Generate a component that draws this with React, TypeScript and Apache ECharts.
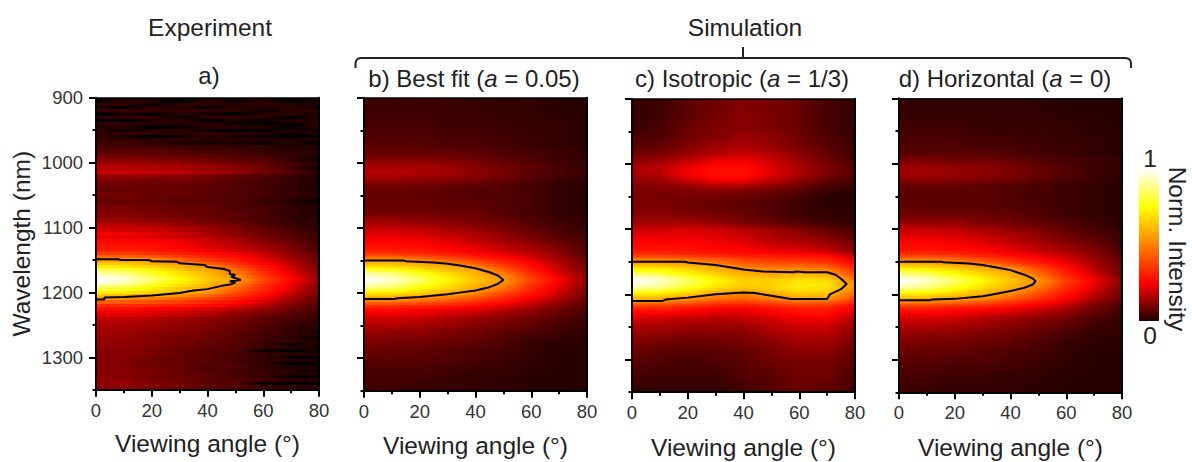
import React, { useEffect, useRef } from "react";
import * as echarts from "echarts";

const angles = [0, 10, 20, 30, 40, 50, 60, 70, 80];
const xTickLabels = [0, 20, 40, 60, 80];
const yMajorTicks = [900, 1000, 1100, 1200, 1300];
const yMinorTicks = [950, 1050, 1150, 1250, 1350];

const wavelengthsSim = [900,920,940,960,975,985,995,1005,1015,1025,1035,1045,1060,1075,1090,1100,1110,1120,1130,1135,1140,1145,1150,1155,1160,1165,1170,1175,1180,1185,1190,1195,1200,1205,1210,1215,1220,1225,1230,1240,1250,1260,1270,1285,1300,1325,1350];
const wavelengthsExp = [900,905,910,915,920,925,930,935,940,945,950,955,960,965,970,975,980,985,990,995,1000,1005,1010,1015,1020,1025,1030,1040,1050,1060,1070,1080,1090,1095,1100,1105,1110,1115,1120,1125,1130,1135,1140,1145,1150,1155,1160,1165,1170,1175,1180,1185,1190,1195,1200,1205,1210,1215,1220,1225,1230,1235,1240,1245,1250,1255,1260,1265,1270,1275,1280,1285,1290,1295,1300,1305,1310,1315,1320,1325,1330,1335,1340,1345,1350];

// Normalised intensity in percent: one row per wavelength, one column per angle
const panelA = [
[5,4,5,4,5,5,4,4,3],[1,4,3,0,4,1,4,0,4],[5,5,1,5,4,4,5,4,3],[3,0,4,4,0,4,3,4,1],[6,6,5,5,5,5,1,4,5],[0,3,1,4,3,0,4,4,3],[5,5,5,1,4,5,4,0,4],[1,0,3,5,0,3,1,4,3],[5,5,4,4,4,1,0,1,4],[3,4,0,1,4,4,3,0,4],[5,1,4,5,1,0,0,4,1],[5,5,5,4,5,4,4,1,4],[4,3,0,1,4,3,1,0,0],[6,5,4,5,4,4,4,3,4],[6,6,5,3,2,3,1,4,0],
[7,7,7,6,6,5,5,3,4],[8,8,8,7,6,6,5,4,3],[9,9,9,8,7,7,5,5,4],[11,11,10,10,9,8,7,5,3],[13,13,12,11,11,9,8,5,1],[15,15,14,14,12,11,9,6,4],[17,17,16,16,15,13,10,7,4],[18,18,17,17,15,13,11,7,1],[20,20,19,18,16,14,11,8,4],[15,15,15,14,12,10,8,6,4],[13,13,12,12,11,9,7,5,3],[12,12,11,11,10,8,7,5,3],
[10,10,10,10,9,8,7,5,3],[11,11,10,10,9,8,7,5,4],[10,10,10,9,9,8,6,4,1],[12,12,11,10,10,8,7,5,4],[13,13,12,11,10,9,7,5,3],[15,15,14,13,11,9,7,5,4],[18,18,17,15,13,11,8,6,4],[20,20,19,17,15,12,9,7,4],[21,21,20,18,15,13,10,7,5],[24,24,22,20,17,14,11,8,5],[23,23,22,20,18,15,12,9,5],[26,26,25,23,20,17,13,10,6],[27,27,26,24,21,18,14,11,7],[29,29,28,25,22,19,16,12,7],
[31,31,30,27,24,21,17,13,8],[36,36,34,31,27,24,19,14,9],[45,45,42,37,31,27,21,15,10],[56,56,52,45,36,30,23,17,10],[64,63,59,55,44,35,26,18,11],[73,71,66,60,54,39,29,20,12],[82,79,72,64,57,45,31,21,12],[91,87,78,69,61,50,34,23,13],[98,94,84,73,63,54,37,25,14],[100,96,86,75,64,57,39,26,15],[98,93,83,73,63,54,37,25,14],[91,87,78,69,60,50,34,23,13],[82,79,72,64,57,45,32,22,12],[73,71,66,60,54,40,30,20,12],[63,62,58,55,46,36,27,18,11],[55,53,50,45,38,31,24,16,10],[43,42,40,37,32,27,21,14,9],[34,34,32,30,27,23,18,12,8],[28,28,26,24,22,19,15,11,7],[24,24,23,21,19,16,13,10,6],[22,22,21,19,17,14,11,8,6],
[19,19,18,16,14,12,9,7,5],[18,18,17,15,13,11,9,6,5],[17,17,16,14,13,11,8,6,4],[16,16,15,14,12,10,8,5,4],[16,16,14,13,12,10,7,5,1],[16,15,14,13,11,9,7,5,4],[15,15,13,12,11,9,7,4,1],[15,14,13,12,10,9,6,5,3],[14,14,13,11,10,8,6,1,3],[14,14,12,11,9,8,6,4,3],[13,13,12,10,9,8,1,0,3],[13,13,12,10,9,7,5,4,3],[13,13,11,10,8,7,5,1,0],[13,13,11,10,9,7,5,4,3],[13,12,11,10,8,7,5,0,0],[13,13,11,10,8,8,5,3,3],[13,13,12,10,8,7,5,4,1],[13,13,12,10,9,7,6,4,4],[14,13,11,10,9,7,5,1,0],[14,14,12,11,9,8,6,4,4],[14,14,12,11,9,8,1,0,1],[14,14,13,11,9,8,6,5,5],[14,14,12,11,9,8,6,5,4],
];

const panelB = [
[6,6,6,6,5,5,5,4,4],[6,6,6,6,6,5,5,4,4],[7,7,7,6,6,6,5,5,4],[8,8,8,7,7,6,6,5,4],[9,9,9,8,8,7,6,5,4],[10,10,10,10,9,8,7,6,5],[13,13,13,12,11,9,8,6,5],[16,16,16,15,13,11,9,7,5],[18,18,17,16,14,12,9,7,6],[15,15,14,13,12,10,8,6,5],[11,11,11,10,9,8,7,5,4],[10,10,9,9,8,8,7,5,4],[10,10,10,9,9,8,7,5,4],[11,11,11,10,10,8,7,5,4],[15,15,14,13,12,10,8,6,5],
[19,19,18,16,14,12,9,7,5],[22,22,21,19,17,14,11,8,6],[25,25,24,22,19,16,13,10,7],[28,28,27,25,22,19,16,12,8],[31,31,30,27,24,20,17,13,8],[36,36,34,31,27,23,19,14,9],[45,45,42,37,31,26,21,15,9],[55,55,51,44,36,29,23,16,10],[63,62,58,55,44,35,26,18,11],[72,70,65,59,54,39,28,19,11],[81,78,71,63,57,44,30,20,12],[90,86,77,68,60,49,33,22,13],[98,93,83,72,62,53,36,24,14],[100,95,85,74,63,55,38,25,15],[97,92,82,72,62,53,36,24,14],[90,86,77,68,59,49,33,23,13],[81,78,71,63,56,44,31,21,12],[72,70,65,59,52,39,29,20,12],[62,61,58,54,45,35,26,18,11],[53,52,49,44,37,30,23,16,10],[43,42,40,36,31,26,20,14,9],[33,33,31,29,26,22,17,12,8],[28,28,26,24,22,19,15,11,8],[24,24,23,21,19,16,13,10,7],
[20,20,19,17,15,13,11,8,6],[17,17,16,15,13,11,9,7,5],[15,14,14,12,11,9,8,6,5],[13,12,12,11,10,8,6,5,4],[11,10,10,9,8,7,5,4,4],[9,9,9,8,7,6,5,4,4],[7,7,7,6,5,5,4,4,4],[6,6,5,5,5,4,4,4,4],
];

const panelC = [
[5,6,9,11,13,12,10,7,5],[5,6,9,11,13,12,10,7,5],[5,7,10,12,13,12,10,7,5],[7,8,11,13,15,14,11,8,5],[9,10,13,16,17,15,12,9,6],[11,12,15,18,20,18,14,10,6],[14,15,19,23,24,20,15,11,7],[16,18,23,27,27,22,17,12,8],[16,18,24,28,28,22,17,12,8],[14,15,20,24,24,19,14,10,7],[12,13,14,16,16,13,10,7,5],[12,12,12,12,11,10,8,5,4],[12,12,11,10,9,8,6,4,4],[13,13,12,11,10,8,6,5,4],[16,16,16,14,12,10,8,6,5],
[20,20,21,20,18,15,13,10,7],[22,23,23,22,20,17,15,12,9],[25,25,25,24,22,19,17,15,11],[28,28,28,26,25,22,21,18,13],[31,31,30,28,26,24,23,21,14],[36,36,34,32,30,29,28,26,18],[45,45,43,39,35,33,32,30,21],[55,55,53,47,41,38,37,35,24],[63,62,59,55,46,44,44,41,28],[72,70,65,59,53,50,50,47,32],[81,78,71,63,57,55,55,54,36],[90,86,77,68,61,59,61,60,40],[98,93,83,72,64,63,66,65,44],[100,95,85,74,66,65,70,69,49],[97,92,82,72,65,66,71,70,53],[90,86,77,68,62,66,71,69,52],[81,78,70,62,57,62,68,66,48],[72,70,64,55,51,57,64,62,44],[62,61,55,48,45,50,58,57,39],[54,51,47,41,39,43,48,47,33],[43,42,39,34,32,35,39,38,28],[33,33,30,27,26,29,32,32,24],[28,28,26,23,23,26,29,29,22],[25,24,23,21,21,24,27,27,20],
[20,19,18,17,18,20,23,23,17],[17,16,15,15,15,18,20,20,15],[15,14,13,13,13,16,18,18,13],[13,12,11,11,12,14,16,16,12],[11,9,9,9,10,12,14,14,10],[9,8,7,8,9,11,12,12,9],[7,6,6,6,8,9,11,11,7],[5,5,5,5,6,8,10,9,6],
];

const panelD = [
[5,5,5,5,5,4,4,4,4],[5,5,5,5,5,5,4,4,4],[6,6,6,5,5,5,5,4,4],[7,7,7,6,6,6,5,5,4],[8,8,8,7,7,6,6,5,4],[9,9,9,9,8,7,6,5,4],[12,12,11,11,10,8,7,6,5],[15,15,14,14,12,10,8,6,5],[16,16,15,14,12,10,8,6,5],[13,13,13,12,11,9,7,6,4],[10,10,10,9,8,7,6,5,4],[9,9,9,9,8,7,6,5,4],[9,9,9,9,8,7,6,5,4],[11,10,10,10,9,8,6,5,4],[14,14,14,12,11,9,8,6,4],
[19,19,18,16,14,12,9,7,5],[22,22,21,19,17,14,11,8,6],[25,25,24,22,19,16,13,10,6],[28,28,27,25,22,19,16,12,7],[31,31,30,27,24,20,17,13,8],[36,36,34,31,27,23,19,14,9],[45,45,42,37,31,26,21,15,9],[55,55,51,44,36,29,23,16,10],[63,62,58,55,44,34,25,17,10],[72,70,65,59,53,39,28,18,11],[81,78,71,63,57,43,30,19,11],[90,86,77,68,60,48,32,21,12],[98,93,83,72,62,52,35,23,13],[100,95,85,74,63,54,37,24,14],[97,92,82,72,62,52,35,23,13],[90,86,77,68,59,48,32,22,12],[81,78,71,63,56,43,30,20,11],[72,70,65,59,52,39,28,19,11],[62,61,58,55,45,35,26,17,10],[54,53,49,44,37,30,23,15,9],[43,42,40,36,31,26,20,13,8],[33,33,31,29,26,22,17,11,7],[28,28,26,24,22,19,15,10,7],[24,24,23,21,19,16,13,9,6],
[20,20,19,17,15,13,11,7,5],[17,17,16,15,13,11,9,6,5],[15,14,14,12,11,9,7,5,5],[13,12,12,11,10,8,6,5,4],[11,10,10,9,8,7,5,4,4],[9,9,8,8,7,6,5,4,4],[7,7,6,6,5,5,4,4,4],[6,5,5,5,5,4,4,4,4],
];

const contourA = [[0,1149],[8,1149],[9,1150],[19,1150],[20,1152],[29,1153],[30,1155],[39,1158],[40,1161],[46,1164],[48,1167],[48,1172],[50,1173],[48.5,1176],[52,1181],[48,1183],[50,1185],[48,1188],[45,1190],[40,1195],[35,1197],[30,1201],[25,1203],[20,1205],[10,1207],[3,1208],[3,1211],[0,1211]];
const contourB = [[0,1150],[14,1150],[15,1151],[25,1153],[30,1155],[35,1158],[40,1162],[45,1168],[48,1173],[50,1180],[48,1186],[45,1191],[40,1196],[35,1199],[30,1202],[20,1206],[12,1208],[11,1209],[0,1209]];
const contourC = [[0,1150],[19,1150],[20,1151],[30,1155],[40,1162],[47,1165],[58,1166],[59,1165],[62,1166],[70,1166],[73,1170],[75,1176],[77,1184],[75,1192],[71,1200],[70,1207],[57,1207],[50,1202],[44,1198],[40,1197],[30,1200],[20,1205],[12,1208],[11,1210],[0,1210]];
const contourD = [[0,1150],[15,1150],[16,1151],[25,1153],[30,1155],[35,1159],[40,1163],[45,1170],[48,1176],[49,1180],[48,1185],[45,1190],[40,1195],[35,1199],[30,1203],[20,1207],[12,1208],[11,1209],[0,1209]];

const panelTitles = [
  "{n|a)}",
  "{n|b) Best fit (}{i|a}{n| = 0.05)}",
  "{n|c) Isotropic (}{i|a}{n| = 1/3)}",
  "{n|d) Horizontal (}{i|a}{n| = 0)}",
];
const titleCentersX = [209, 474, 742, 1005];

const FONT = "Liberation Sans";
const INK = "#222";
const SOFT = "#333";
const TITLE_SIZE = 24.5;
const PANEL_TITLE_SIZE = 24;
const TICK_SIZE = 18.5;

const hotStops: [number, number, number, number][] = [
  [0, 0, 0, 0],
  [25, 255, 0, 0],
  [50, 255, 128, 0],
  [75, 255, 255, 0],
  [100, 255, 255, 255],
];

function hot(v: number): string {
  const c = Math.max(0, Math.min(100, v));
  for (let i = 1; i < hotStops.length; i++) {
    const a = hotStops[i - 1];
    const b = hotStops[i];
    if (c <= b[0]) {
      const t = (c - a[0]) / (b[0] - a[0]);
      const m = (k: number) => Math.round(a[k] + (b[k] - a[k]) * t);
      return `rgb(${m(1)},${m(2)},${m(3)})`;
    }
  }
  return "#fff";
}

function rowGradient(vals: number[]) {
  const stops: { offset: number; color: string }[] = [];
  const sub = 3;
  for (let i = 0; i < vals.length - 1; i++) {
    for (let s = 0; s < sub; s++) {
      const t = s / sub;
      stops.push({ offset: (i + t) / (vals.length - 1), color: hot(vals[i] + (vals[i + 1] - vals[i]) * t) });
    }
  }
  stops.push({ offset: 1, color: hot(vals[vals.length - 1]) });
  return new echarts.graphic.LinearGradient(0, 0, 1, 0, stops);
}

// Each band runs from one read row to the next; the simulated maps are shaded smoothly
// between them, the measured map keeps its raw stripes.
function bands(waves: number[], rows: number[][], smooth: boolean) {
  if (smooth) {
    return rows.slice(0, -1).map((r, i) => [waves[i], waves[i + 1], ...r, ...rows[i + 1]]);
  }
  return rows.map((r, i) => {
    const lo = i === 0 ? waves[0] : (waves[i - 1] + waves[i]) / 2;
    const hi = i === waves.length - 1 ? waves[i] : (waves[i] + waves[i + 1]) / 2;
    return [lo, hi, ...r, ...r];
  });
}

const panels = [
  { waves: wavelengthsExp, rows: panelA, contour: contourA, left: 96, top: 97.7, height: 292, smooth: false, nameGap: 41.5 },
  { waves: wavelengthsSim, rows: panelB, contour: contourB, left: 364, top: 97.7, height: 293, smooth: true, nameGap: 42.5 },
  { waves: wavelengthsSim, rows: panelC, contour: contourC, left: 632, top: 98.7, height: 293.5, smooth: true, nameGap: 43 },
  { waves: wavelengthsSim, rows: panelD, contour: contourD, left: 899, top: 98.3, height: 294, smooth: true, nameGap: 43 },
];

function buildOption() {
  const grid: any[] = [];
  const xAxis: any[] = [];
  const yAxis: any[] = [];
  const series: any[] = [];
  const title: any[] = [];
  const line = (w: number) => ({ show: true, onZero: false, lineStyle: { color: "#000", width: w } });
  const n = angles.length;

  panels.forEach((p, i) => {
    grid.push({ left: p.left, top: p.top, width: 223, height: p.height, outerBoundsMode: "none" });
    xAxis.push({
      type: "value", gridIndex: i, position: "bottom", min: 0, max: 80, interval: 20, z: 10,
      axisLine: line(2),
      axisTick: { length: 7, lineStyle: { color: "#000", width: 2 } },
      minorTick: { show: true, splitNumber: 2, length: 3.5, lineStyle: { color: "#000", width: 2 } },
      splitLine: { show: false },
      axisLabel: { margin: 11, fontFamily: FONT, fontSize: TICK_SIZE, color: SOFT, customValues: xTickLabels },
      name: "Viewing angle (°)", nameLocation: "middle", nameGap: p.nameGap,
      nameTextStyle: { fontFamily: FONT, fontSize: TITLE_SIZE, color: INK },
    });
    xAxis.push({
      type: "value", gridIndex: i, position: "top", min: 0, max: 80, z: 10,
      axisLine: line(1.5), axisTick: { show: false }, axisLabel: { show: false }, splitLine: { show: false },
    });
    yAxis.push({
      type: "value", gridIndex: i, position: "left", inverse: true, min: 900, max: 1350, interval: 50, z: 10,
      axisLine: line(2),
      axisTick: { length: 7, lineStyle: { color: "#000", width: 2 }, customValues: yMajorTicks },
      splitLine: { show: false },
      axisLabel: i === 0
        ? { margin: 13, fontFamily: FONT, fontSize: TICK_SIZE, color: SOFT, customValues: yMajorTicks, formatter: (v: number) => String(v) }
        : { show: false },
      ...(i === 0
        ? {
            name: "Wavelength (nm)", nameLocation: "middle", nameGap: 62, nameRotate: 90,
            nameTextStyle: { fontFamily: FONT, fontSize: TITLE_SIZE, color: INK },
          }
        : {}),
    });
    yAxis.push({
      type: "value", gridIndex: i, position: "left", inverse: true, min: 900, max: 1350, interval: 50, z: 10,
      axisLine: { show: false },
      axisTick: { length: 3.5, lineStyle: { color: "#000", width: 2 }, customValues: yMinorTicks },
      axisLabel: { show: false }, splitLine: { show: false },
    });
    yAxis.push({
      type: "value", gridIndex: i, position: "right", inverse: true, min: 900, max: 1350, z: 10,
      axisLine: line(2), axisTick: { show: false }, axisLabel: { show: false }, splitLine: { show: false },
    });

    series.push({
      type: "custom", coordinateSystem: "cartesian2d", xAxisIndex: 2 * i, yAxisIndex: 3 * i, silent: true, z: 1, clip: true,
      data: bands(p.waves, p.rows, p.smooth),
      encode: { x: 2, y: 0 },
      renderItem: (_: any, api: any) => {
        const a = api.coord([angles[0], api.value(0)]);
        const b = api.coord([angles[n - 1], api.value(1)]);
        const from = angles.map((_a, k) => api.value(2 + k));
        const to = angles.map((_a, k) => api.value(2 + n + k));
        const y0 = Math.round(a[1]);
        const y1 = Math.round(b[1]);
        const slices = p.smooth ? Math.max(1, Math.round((y1 - y0) / 2)) : 1;
        const children: any[] = [];
        for (let s = 0; s < slices; s++) {
          const t = (s + 0.5) / slices;
          const top = y0 + Math.round(((y1 - y0) * s) / slices);
          const bottom = y0 + Math.round(((y1 - y0) * (s + 1)) / slices);
          if (bottom <= top) continue;
          children.push({
            type: "rect",
            shape: { x: a[0], y: top, width: b[0] - a[0], height: bottom - top },
            style: { fill: rowGradient(from.map((v, k) => v + (to[k] - v) * t)), stroke: null },
            silent: true,
          });
        }
        return { type: "group", children };
      },
    });
    series.push({
      type: "line", xAxisIndex: 2 * i, yAxisIndex: 3 * i, z: 5, silent: true, showSymbol: false, smooth: false,
      data: p.contour, lineStyle: { color: "#000", width: 2 }, clip: false,
    });

    title.push({
      text: panelTitles[i], left: titleCentersX[i], top: i === 0 ? 63 : 66, textAlign: "center", padding: 0,
      textStyle: {
        fontWeight: "normal",
        rich: {
          n: { fontFamily: FONT, fontSize: PANEL_TITLE_SIZE, color: INK, fontWeight: "normal" },
          i: { fontFamily: FONT, fontSize: PANEL_TITLE_SIZE, color: INK, fontStyle: "italic", fontWeight: "normal" },
        },
      },
    });
  });

  const head = (text: string, x: number) => ({
    text, left: x, top: 15, textAlign: "center", padding: 0,
    textStyle: { fontFamily: FONT, fontSize: TITLE_SIZE, fontWeight: "normal", color: INK },
  });
  title.push(head("Experiment", 210), head("Simulation", 745));

  const bracket = { stroke: "#222", lineWidth: 2, fill: null };
  const graphic = [
    {
      type: "polyline", silent: true,
      shape: { points: [[355.5, 68], [355.5, 63], [356.5, 60], [358.5, 58.5], [361, 58], [1125, 58], [1128, 58.5], [1130, 60], [1131, 63], [1131, 68]] },
      style: bracket,
    },
    { type: "line", silent: true, shape: { x1: 743, y1: 47, x2: 743, y2: 58 }, style: bracket },
    {
      type: "rect", silent: true, shape: { x: 1139, y: 169, width: 20, height: 152 },
      style: {
        fill: new echarts.graphic.LinearGradient(0, 1, 0, 0, [
          { offset: 0, color: "#200000" },
          { offset: 0.25, color: "#ff0000" },
          { offset: 0.5, color: "#ff8000" },
          { offset: 0.75, color: "#ffff00" },
          { offset: 1, color: "#ffffff" },
        ]),
      },
    },
    { type: "text", silent: true, x: 1150, y: 158, style: { text: "1", fontFamily: FONT, fontSize: TITLE_SIZE, fill: INK, align: "center", verticalAlign: "middle" } },
    { type: "text", silent: true, x: 1150, y: 335, style: { text: "0", fontFamily: FONT, fontSize: TITLE_SIZE, fill: INK, align: "center", verticalAlign: "middle" } },
    { type: "text", silent: true, x: 1177, y: 249, rotation: -Math.PI / 2, style: { text: "Norm. Intensity", fontFamily: FONT, fontSize: TITLE_SIZE, fill: INK, align: "center", verticalAlign: "middle" } },
  ];

  return { animation: false, backgroundColor: "#fff", grid, xAxis, yAxis, series, title, graphic, tooltip: { show: false }, legend: { show: false } };
}

export default function App() {
  const ref = useRef<HTMLDivElement>(null);
  useEffect(() => {
    const chart = echarts.init(ref.current!, undefined, { renderer: "svg" });
    chart.setOption(buildOption() as any);
    return () => chart.dispose();
  }, []);
  return <div ref={ref} style={{ position: "absolute", left: 0, top: 0, width: 1192, height: 462 }} />;
}
